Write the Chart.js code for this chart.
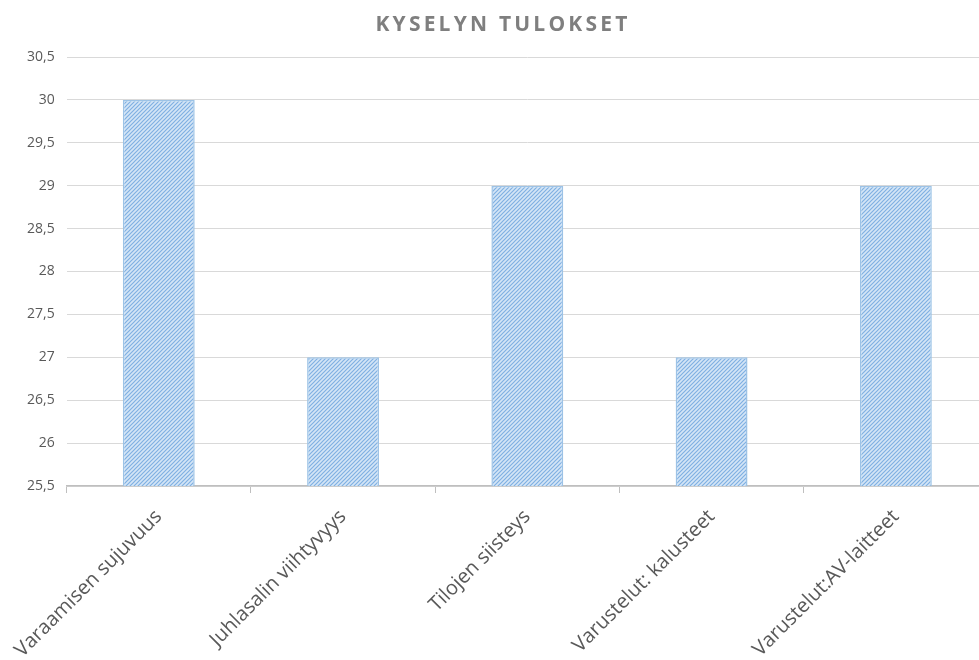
<!DOCTYPE html>
<html>
<head>
<meta charset="utf-8">
<script src="https://cdn.jsdelivr.net/npm/chart.js@4"></script>
<style>
  html, body { margin: 0; padding: 0; background: #fff; overflow: hidden; }
  #wrap { position: relative; width: 988px; height: 660px; }
  #otsikko {
    position: absolute; left: 0; top: 9px; width: 1006px; text-align: center;
    font: bold 21px "Open Sans", sans-serif; color: #7f7f7f; letter-spacing: 3.2px;
  }
</style>
</head>
<body>
<div id="wrap">
  <div id="otsikko">KYSELYN TULOKSET</div>
  <canvas id="kysely"></canvas>
</div>
<script>
// kyselyn data
const kategoriat = ['Varaamisen sujuvuus', 'Juhlasalin viihtyvyys', 'Tilojen siisteys', 'Varustelut: kalusteet', 'Varustelut:AV-laitteet'];
const tulokset = [30, 27, 29, 27, 29];
const yMin = 25.5;
const yMax = 30.5;
const yAskel = 0.5;

const harmaaTeksti = '#595959';
const viivaVari = '#d9d9d9';
const akseliVari = '#bfbfbf';

// vinoviivakuvio pylväisiin
function vinoKuvio() {
    const c = document.createElement('canvas');
    c.width = 4; c.height = 4;
    const g = c.getContext('2d');
    g.fillStyle = '#d4e5f6';
    g.fillRect(0, 0, 4, 4);
    g.strokeStyle = '#7fb0e2';
    g.lineWidth = 1.2;
    g.beginPath();
    g.moveTo(-1, 5); g.lineTo(5, -1);
    g.moveTo(-1, 1); g.lineTo(1, -1);
    g.moveTo(3, 5); g.lineTo(5, 3);
    g.stroke();
    return g.createPattern(c, 'repeat');
}

new Chart(document.getElementById('kysely'), {
    type: 'bar',
    data: {
        labels: kategoriat,
        datasets: [{
            data: tulokset,
            backgroundColor: vinoKuvio(),
            borderColor: '#9dc3e6',
            borderWidth: 1.5,
            categoryPercentage: 1,
            barPercentage: 0.39
        }]
    },
    options: {
        responsive: true,
        maintainAspectRatio: false,
        animation: false,
        layout: { padding: { top: 57, right: 0, bottom: 0, left: 0 } },
        plugins: {
            legend: { display: false },
            tooltip: { enabled: false }
        },
        scales: {
            x: {
                afterFit: (s) => { s.height = 174; },
                grid: {
                    offset: true,
                    drawOnChartArea: false,
                    drawTicks: true,
                    tickLength: 7,
                    color: akseliVari
                },
                border: { color: akseliVari, width: 1.5 },
                ticks: {
                    color: harmaaTeksti,
                    font: { family: '"Open Sans", sans-serif', size: 20 },
                    minRotation: 45,
                    maxRotation: 45,
                    autoSkip: false,
                    padding: 12
                }
            },
            y: {
                min: yMin,
                max: yMax,
                afterFit: (s) => { s.width = 65; },
                grid: { color: viivaVari, drawTicks: false },
                border: { display: false },
                ticks: {
                    stepSize: yAskel,
                    padding: 12,
                    color: harmaaTeksti,
                    font: { family: '"Open Sans", sans-serif', size: 14 },
                    callback: (v) => String(v).replace('.', ',')
                }
            }
        }
    }
});
</script>
</body>
</html>
